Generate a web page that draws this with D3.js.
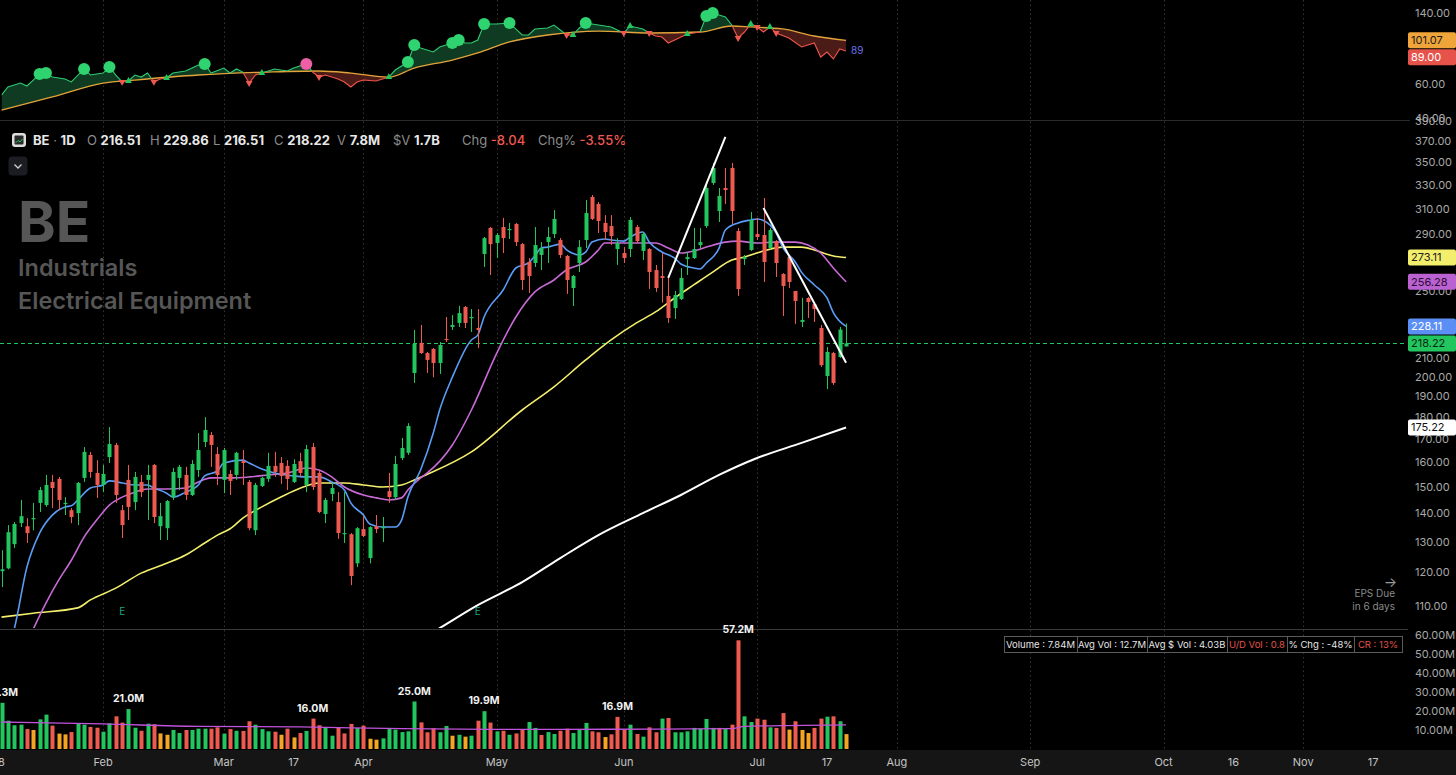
<!DOCTYPE html>
<html>
<head>
<meta charset="utf-8">
<script src="https://cdn.jsdelivr.net/npm/d3@7"></script>
<style>
  html, body { margin: 0; padding: 0; background: #000; }
  svg { display: block; font-family: Inter, "Noto Sans", sans-serif; }
</style>
</head>
<body>
<svg id="chart" width="1456" height="775"></svg>
<script>
// Daily candles, one row per trading day: [open, high, low, close]
const ohlc = [
  [120.4,127.2,115.5,121.0],[121.3,135.8,121.0,133.3],[129.2,136.9,127.9,136.2],[136.5,145.0,135.1,139.0],
  [135.4,138.3,129.6,133.0],[137.9,143.9,134.0,138.3],[143.9,150.0,140.5,148.8],[143.1,154.8,142.4,150.8],
  [152.0,154.8,142.0,149.6],[153.2,154.0,141.2,145.0],[143.5,146.1,139.4,143.9],[141.2,142.0,136.5,138.7],
  [140.1,152.0,135.8,151.6],[153.6,166.5,152.0,164.4],[163.1,164.4,153.6,156.0],[155.6,160.9,145.8,150.8],
  [150.8,158.9,148.0,155.2],[162.2,175.4,159.7,167.8],[167.4,168.3,143.9,146.9],[141.2,143.1,131.3,135.8],
  [152.8,158.9,137.6,142.4],[144.2,156.0,141.2,154.0],[152.0,154.8,146.1,148.0],[152.8,158.9,137.6,154.8],
  [158.9,159.3,136.5,138.7],[135.4,143.9,130.6,139.0],[134.7,145.0,130.6,144.6],[146.1,157.6,145.0,156.0],
  [153.6,158.9,148.8,158.1],[154.8,158.1,145.0,146.9],[146.9,160.9,146.5,159.3],[156.8,172.7,154.0,165.2],
  [168.7,180.0,166.5,174.1],[171.8,173.2,158.1,167.4],[163.5,166.5,150.8,154.8],[152.8,166.1,147.6,165.2],
  [155.2,156.8,146.9,152.4],[154.8,164.4,152.8,164.0],[160.5,165.2,150.8,159.7],[152.0,152.8,134.0,134.7],
  [134.0,151.6,132.3,150.8],[150.4,154.0,150.0,153.6],[153.2,164.0,152.0,158.5],[158.5,164.4,154.0,156.0],
  [159.7,162.2,151.2,154.4],[158.5,160.9,148.8,153.2],[152.0,161.3,151.6,159.3],[160.5,164.0,154.0,155.6],
  [150.8,167.4,148.0,165.6],[166.5,168.3,148.8,150.0],[155.6,156.8,140.1,140.5],[139.8,145.8,136.5,145.0],
  [147.3,151.6,144.6,149.6],[144.2,148.0,131.0,133.0],[132.6,148.0,129.6,133.0],[132.6,133.0,116.1,118.9],
  [122.9,135.1,121.7,134.7],[134.4,139.0,131.6,132.0],[124.6,135.4,122.9,135.1],[135.4,139.4,133.0,134.4],
  [134.7,138.7,129.9,135.1],[148.4,155.6,143.9,146.1],[146.1,162.7,145.0,159.3],[161.8,170.5,160.9,166.1],
  [164.0,177.2,163.1,175.9],[202.0,226.0,196.8,217.9],[218.5,229.0,212.3,212.8],[212.8,213.4,202.0,209.0],
  [215.1,215.6,199.8,207.3],[207.3,219.0,201.5,217.3],[220.8,233.8,219.0,220.2],[227.8,235.0,226.0,229.0],
  [230.2,240.6,227.8,236.2],[240.0,240.6,227.2,230.2],[233.2,238.7,224.8,233.8],[227.2,238.7,215.6,226.0],
  [275.6,288.1,266.4,287.3],[295.0,295.7,260.9,282.8],[283.6,291.1,272.7,289.6],[295.7,302.8,276.3,287.3],
  [293.4,298.9,286.6,294.2],[298.1,298.9,281.4,284.3],[282.8,283.6,250.9,257.5],[269.9,272.7,248.9,260.2],
  [269.2,295.7,266.4,282.1],[274.9,284.3,264.3,279.9],[284.3,295.7,269.2,288.1],[290.4,309.1,287.3,302.0],
  [285.8,287.3,272.7,274.9],[274.2,274.9,248.3,257.5],[252.2,260.9,240.6,260.2],[269.2,285.8,262.9,280.6],
  [285.8,317.3,279.9,306.7],[319.8,321.5,301.2,302.0],[314.0,315.7,291.1,300.4],[298.9,305.1,285.8,291.9],
  [296.5,305.1,282.1,288.8],[279.2,287.3,267.8,283.6],[276.3,280.6,269.2,272.7],[279.2,303.5,273.4,301.2],
  [295.7,297.3,283.6,285.0],[277.8,291.9,271.3,290.4],[279.2,279.9,251.5,262.9],[264.3,267.8,249.6,252.2],
  [260.2,276.3,242.7,258.9],[247.0,258.9,230.2,233.2],[239.3,250.2,232.6,247.6],[245.0,265.7,244.4,258.9],
  [272.0,277.0,260.9,273.4],[272.7,295.0,272.0,279.2],[282.1,295.0,279.9,284.3],[296.5,332.5,295.0,327.4],
  [331.7,349.5,330.0,345.0],[308.3,327.4,299.6,320.7],[327.4,345.0,314.0,325.7],[345.0,349.5,298.1,308.3],
  [292.6,295.0,247.0,251.5],[272.0,274.9,267.8,273.4],[278.5,307.5,277.8,301.2],[290.4,302.8,285.8,288.1],
  [289.6,319.0,256.2,269.9],[279.9,295.0,279.2,293.4],[285.0,285.8,259.6,269.2],[261.6,262.2,234.4,253.5],
  [273.4,274.9,252.2,256.2],[250.2,250.2,229.6,243.8],[230.8,245.7,227.8,232.0],[245.7,246.3,233.2,243.1],
  [241.8,243.1,230.8,238.7],[227.2,229.0,205.2,206.2],[200.4,216.2,193.7,213.4],[212.8,213.4,195.8,196.8],
  [210.6,227.8,210.1,226.26],[216.51,229.86,216.51,218.22]
];

// Volume in millions, and bar kind (u = up, d = down, l = low-volume day)
const volume = [
  24.3,14.9,12.5,12.8,10.5,10.0,15.6,18.1,12.3,8.1, 7.7,8.9,13.2,12.8,11.6,11.2,9.1,13.5,17.2,13.9,
  21.0,11.2,9.6,13.3,13.0,8.2,7.5,10.0,8.4,10.0, 10.0,10.7,10.7,10.7,11.4,8.1,10.5,9.6,9.5,14.6,
  12.8,10.5,9.3,9.1,7.5,10.7,6.1,8.4,9.5,16.0, 12.5,11.4,7.0,11.1,8.2,13.2,11.1,12.3,5.4,4.9,
  5.6,10.5,10.2,8.9,9.3,25.0,14.0,8.8,10.9,8.8, 12.1,7.0,7.5,6.5,7.0,14.9,19.9,13.9,9.3,9.6,
  7.5,8.2,10.5,14.2,11.1,7.4,8.9,7.9,9.6,10.7, 8.4,10.0,13.7,9.3,8.8,6.3,7.7,16.9,10.2,12.8,
  7.9,6.5,11.4,8.8,16.0,16.3,8.8,8.8,9.3,11.1, 10.7,15.8,11.1,11.1,10.5,12.8,57.2,17.2,14.2,16.0,
  15.4,11.4,11.1,18.9,10.2,14.6,10.0,8.4,11.1,16.0, 17.0,17.2,14.6,7.84
];
const volKind = ('uuuudluudl' + 'lduudduudd' + 'uududlluud' + 'uuuddududd' + 'uuudldldud' +
  'duudddudll' + 'uuuuuudddu' + 'ululududud' + 'udduuduudd' + 'uuuddldddu' +
  'dudduduuuu' + 'uuududduud' + 'duddldlldd' + 'udul').split('');
const volLabelled = [0, 20, 49, 65, 76, 97, 116];
const volAvg = [[0,14.2],[16,13.2],[31,11.9],[47,11.6],[63,10.7],[79,10.3],[96,10.4],[115,10.7],[117,11.9],[123,12.3],[133,12.7]];

// Moving averages: [day, value]
const ma10 = [[0,95],[2,103.5],[4,121.7],[6,133.0],[8,139.4],[10,142.4],[11,142.8],[12,145.0],[14,149.6],[16,150.8],
  [17,152.4],[19,151.6],[21,150.8],[23,150.8],[24,149.6],[26,147.6],[27,146.1],[29,148.0],[31,150.8],[32,154.4],
  [34,156.4],[35,159.7],[38,160.9],[39,159.7],[41,157.2],[43,155.6],[46,154.4],[48,154.0],[50,154.0],[52,152.0],
  [54,148.8],[55,143.9],[57,139.4],[58,136.2],[60,135.1],[62,135.1],[63,137.6],[64,146.1],[66,156.8],[68,172.7],
  [69,183.4],[71,199.8],[74,220.2],[75,223.0],[76,233.8],[79,250.9],[81,265.7],[83,269.2],[84,274.2],[85,279.9],
  [86,280.6],[88,282.8],[89,278.5],[91,274.9],[92,277.0],[93,284.3],[95,286.6],[96,285.8],[98,285.0],[99,288.1],
  [101,291.9],[102,284.3],[104,277.0],[106,272.7],[107,268.5],[109,265.7],[110,265.0],[111,269.2],[113,279.9],
  [114,293.4],[116,298.9],[118,301.2],[119,302.0],[120,300.8],[122,291.1],[123,280.6],[125,269.9],[126,262.7],
  [128,254.2],[130,245.7],[131,236.5],[133,228.11]];
const ma21 = [[3,96],[5,103.5],[7,110.8],[9,117.6],[11,123.9],[13,131.6],[15,137.6],[17,143.1],[19,146.1],[21,148.0],
  [23,149.2],[26,149.2],[29,149.6],[31,152.0],[33,153.6],[36,153.6],[39,154.0],[42,154.8],[45,155.6],[48,157.6],
  [50,156.8],[52,154.0],[54,150.0],[57,146.9],[59,145.8],[61,145.0],[63,145.8],[64,148.8],[66,153.6],[67,155.5],
  [71,167.4],[74,183.4],[78,212.8],[81,233.8],[84,249.6],[87,257.5],[89,264.5],[92,269.9],[94,278.5],[95,283.6],
  [97,283.6],[100,283.6],[103,283.6],[105,279.9],[107,276.3],[109,277.8],[111,280.6],[114,284.3],[116,285.0],
  [119,283.6],[122,284.3],[125,284.3],[127,282.1],[129,276.3],[131,265.7],[133,256.28]];
const ma50 = [[0,106.8],[5,107.9],[12,109.4],[14,111.7],[18,115.2],[22,119.8],[26,122.9],[29,125.6],[32,129.6],
  [34,132.3],[36,134.5],[38,138.3],[41,142.4],[44,146.1],[47,149.5],[50,151.6],[54,151.6],[57,150.8],[60,150.0],
  [63,150.8],[65,152.8],[67,155.0],[74,164.4],[82,183.4],[87,194.8],[92,209.0],[96,220.2],[100,230.2],[103,236.9],
  [106,245.7],[109,254.2],[112,262.9],[115,271.3],[117,273.4],[120,277.8],[123,280.6],[126,280.6],[128,278.5],
  [131,274.2],[133,273.11]];
const ma200 = [[57,93.0],[63,98.0],[69,103.8],[75,110.2],[82,117.0],[88,124.6],[94,132.3],[101,140.1],[107,146.9],
  [113,154.8],[119,161.8],[126,168.3],[133,175.22]];

// Hand-drawn trend lines: [day, price] end points
const trendLines = [[[105,258.9],[114,374.1]], [[120,310.8],[133,207.5]]];
const earningsDays = [19, 75];

// Relative-strength line and its average: [day, value]
const rs = [[0,52.6],[1,57.9],[3,60.7],[4,58.6],[5,62.9],[6,67.6],[7,68.4],[8,65.2],[10,63.7],[11,61.5],[13,71.8],
  [14,66.8],[16,68.4],[17,73.5],[18,66.8],[19,61.5],[20,62.2],[21,66.8],[22,65.2],[23,68.4],[24,61.5],[25,63.7],
  [26,64.5],[27,68.4],[29,70.1],[30,72.6],[31,75.3],[32,76.2],[33,68.4],[35,72.6],[36,68.4],[37,71.8],[38,69.2],
  [39,60.7],[40,66.8],[41,68.4],[43,71.8],[45,70.1],[46,72.6],[48,76.2],[49,69.2],[50,65.2],[51,66.8],[53,63.7],
  [54,61.5],[55,57.9],[56,61.5],[57,62.9],[59,62.2],[61,65.2],[62,70.9],[64,78.0],[65,95.6],[66,92.2],[68,87.9],
  [69,93.3],[71,97.9],[72,101.4],[73,97.9],[74,97.9],[75,101.4],[76,122.8],[78,122.8],[80,124.3],[82,107.7],
  [83,107.7],[84,115.7],[86,117.1],[87,121.3],[89,107.7],[90,107.7],[91,117.1],[92,124.3],[94,121.3],[96,118.5],
  [98,110.3],[99,119.9],[101,115.7],[102,110.3],[103,106.4],[104,105.1],[105,97.9],[107,105.1],[108,109.0],
  [110,111.6],[111,135.1],[112,140.0],[114,133.5],[115,121.3],[116,103.9],[117,111.6],[118,122.8],[119,118.5],
  [120,111.6],[121,118.5],[122,110.3],[124,103.9],[126,93.3],[128,97.9],[129,82.8],[130,87.9],[131,80.9],
  [132,91.1],[133,89.0]];
const rsMa = [[0,44.0],[8,51.4],[16,60.7],[21,62.9],[31,66.8],[42,69.2],[50,70.1],[55,68.4],[61,65.2],[65,72.6],
  [71,79.9],[75,86.9],[80,99.1],[86,107.7],[94,112.9],[102,110.3],[110,111.6],[115,119.9],[118,118.5],[123,115.7],
  [128,106.4],[133,101.07]];
const rsHighs = [6, 7, 13, 17, 32, 64, 65, 71, 72, 76, 80, 92, 111, 112];
const rsPink = [48];
const rsCrossUp = [20, 26, 41, 61, 90, 99, 108, 118, 121];
const rsCrossDown = [19, 24, 39, 50, 89, 98, 102, 116, 119, 122];

// Axis ticks
const timeTicks = [[0,'8'],[16,'Feb'],[35,'Mar'],[46,'17'],[57,'Apr'],[78,'May'],[98,'Jun'],[119,'Jul'],
  [130,'17'],[141,'Aug'],[162,'Sep'],[183,'Oct'],[194,'16'],[205,'Nov'],[216,'17']];
const priceTicks = [110,120,130,140,150,160,170,180,190,200,210,230,250,270,290,310,330,350,370,390];
const rsTicks = [40, 60, 140];
const volTicks = [10, 20, 30, 40, 50, 60];

const header = [['O','216.51'],['H','229.86'],['L','216.51'],['C','218.22'],['V','7.8M'],['$V','1.7B']];
const change = [['Chg','-8.04'],['Chg%','-3.55%']];
const infoCells = ['Volume : 7.84M','Avg Vol : 12.7M','Avg $ Vol : 4.03B','U/D Vol : 0.8','% Chg : -48%','CR : 13%'];

const UP = '#22c55e', DOWN = '#ef5a50', LOW = '#f5a524';
const AXIS = '#a8a8a8';
const PLOT_R = 1406;

const svg = d3.select('#chart');
const defs = svg.append('defs');

const x = d3.scaleLinear().domain([0, 216]).range([1.5, 1373.1]);
const yPrice = d3.scaleLog().domain([110, 390]).range([605.8, 121]);
const yRs = d3.scaleLog().domain([40, 140]).range([118, 13]);
const yVol = d3.scaleLinear().domain([0, 60]).range([749, 635]);

svg.append('rect').attr('width', 1456).attr('height', 775).attr('fill', '#000');
svg.append('rect').attr('x', 0).attr('y', 750).attr('width', 1456).attr('height', 25).attr('fill', '#151515');

const clip = (id, y, h) => defs.append('clipPath').attr('id', id)
  .append('rect').attr('x', 0).attr('y', y).attr('width', PLOT_R).attr('height', h);
clip('clipRs', 0, 120);
clip('clipPrice', 121, 507);
clip('clipVol', 630, 120);

// Month grid lines
const months = timeTicks.filter(d => /[A-Za-z]/.test(d[1]));
svg.append('g').selectAll('line').data(months).join('line')
  .attr('x1', d => Math.round(x(d[0])) + 0.5).attr('x2', d => Math.round(x(d[0])) + 0.5)
  .attr('y1', 0).attr('y2', 750)
  .attr('stroke', '#343434').attr('stroke-dasharray', '1.5,3');

// Panel separators
svg.append('line').attr('x1', 0).attr('x2', 1410).attr('y1', 120.5).attr('y2', 120.5).attr('stroke', '#2a2a2a');
svg.append('line').attr('x1', 0).attr('x2', 1408).attr('y1', 629.5).attr('y2', 629.5).attr('stroke', '#3a3a3a');

// ---------- RS panel ----------
const rsG = svg.append('g').attr('clip-path', 'url(#clipRs)');
const px = d => x(d[0]);
defs.append('clipPath').attr('id', 'aboveMa').append('path')
  .attr('d', d3.area().x(px).y0(-5).y1(d => yRs(d[1]))(rsMa));
defs.append('clipPath').attr('id', 'belowMa').append('path')
  .attr('d', d3.area().x(px).y0(125).y1(d => yRs(d[1]))(rsMa));

rsG.append('path').attr('clip-path', 'url(#aboveMa)')
  .attr('d', d3.area().x(px).y0(125).y1(d => yRs(d[1]))(rs)).attr('fill', '#0f3b22');
rsG.append('path').attr('clip-path', 'url(#belowMa)')
  .attr('d', d3.area().x(px).y0(-5).y1(d => yRs(d[1]))(rs)).attr('fill', '#4a1b17');

const rsLine = d3.line().x(px).y(d => yRs(d[1]));
rsG.append('path').attr('d', d3.line().x(px).y(d => yRs(d[1])).curve(d3.curveMonotoneX)(rsMa))
  .attr('fill', 'none').attr('stroke', '#e2a43a').attr('stroke-width', 1.3);
rsG.append('path').attr('clip-path', 'url(#aboveMa)').attr('d', rsLine(rs))
  .attr('fill', 'none').attr('stroke', '#2ecc71').attr('stroke-width', 1.1);
rsG.append('path').attr('clip-path', 'url(#belowMa)').attr('d', rsLine(rs))
  .attr('fill', 'none').attr('stroke', '#f0554a').attr('stroke-width', 1.1);

const rsAt = new Map(rs);
const tri = d3.symbol().type(d3.symbolTriangle).size(20)();
rsG.selectAll('path.up').data(rsCrossUp).join('path').attr('class', 'up').attr('d', tri)
  .attr('transform', d => `translate(${x(d)},${yRs(rsAt.get(d))})`).attr('fill', UP);
rsG.selectAll('path.dn').data(rsCrossDown).join('path').attr('class', 'dn').attr('d', tri)
  .attr('transform', d => `translate(${x(d)},${yRs(rsAt.get(d))}) rotate(180)`).attr('fill', DOWN);
rsG.selectAll('circle.hi').data(rsHighs).join('circle').attr('class', 'hi')
  .attr('cx', d => x(d)).attr('cy', d => yRs(rsAt.get(d))).attr('r', 6).attr('fill', '#2fd36f');
rsG.selectAll('circle.pk').data(rsPink).join('circle').attr('class', 'pk')
  .attr('cx', d => x(d)).attr('cy', d => yRs(rsAt.get(d))).attr('r', 6).attr('fill', '#ef5fa7');

const rsLast = rs[rs.length - 1];
svg.append('text').attr('x', x(rsLast[0]) + 5).attr('y', yRs(rsLast[1])).attr('dy', '0.35em')
  .attr('font-size', 10).attr('fill', '#6b72ea').text(Math.round(rsLast[1]));

// ---------- Price panel ----------
svg.append('text').attr('x', 18).attr('y', 242).attr('font-size', 57).attr('font-weight', 700)
  .attr('fill', '#565656').text('BE');
svg.append('text').attr('x', 18).attr('y', 276).attr('font-size', 23.5).attr('font-weight', 600)
  .attr('fill', '#565656').text('Industrials');
svg.append('text').attr('x', 18).attr('y', 309).attr('font-size', 23.5).attr('font-weight', 600)
  .attr('fill', '#565656').text('Electrical Equipment');

const pG = svg.append('g').attr('clip-path', 'url(#clipPrice)');
const lastClose = ohlc[ohlc.length - 1][3];
const closeY = Math.round(yPrice(lastClose)) + 0.5;
pG.append('line').attr('x1', 0).attr('x2', PLOT_R).attr('y1', closeY).attr('y2', closeY)
  .attr('stroke', UP).attr('stroke-dasharray', '4,3');

const maLine = d3.line().x(px).y(d => yPrice(d[1])).curve(d3.curveMonotoneX);
[[ma200, '#ffffff', 2], [ma50, '#f3ef6c', 1.6], [ma21, '#c76ad6', 1.6], [ma10, '#5b9cf6', 1.6]].forEach(([data, c, w]) => {
  pG.append('path').attr('d', maLine(data)).attr('fill', 'none').attr('stroke', c).attr('stroke-width', w);
});

const cG = pG.append('g');
const col = d => (d[3] >= d[0] ? UP : DOWN);
cG.selectAll('line').data(ohlc).join('line')
  .attr('x1', (d, i) => Math.round(x(i)) + 0.5).attr('x2', (d, i) => Math.round(x(i)) + 0.5)
  .attr('y1', d => yPrice(d[1])).attr('y2', d => yPrice(d[2]))
  .attr('stroke', col).attr('stroke-width', 1);
cG.selectAll('rect').data(ohlc).join('rect')
  .attr('x', (d, i) => Math.round(x(i)) - 1.5).attr('width', 4)
  .attr('y', d => yPrice(Math.max(d[0], d[3])))
  .attr('height', d => Math.max(1.2, Math.abs(yPrice(d[0]) - yPrice(d[3]))))
  .attr('fill', col);

pG.selectAll('line.tl').data(trendLines).join('line').attr('class', 'tl')
  .attr('x1', d => x(d[0][0])).attr('y1', d => yPrice(d[0][1]))
  .attr('x2', d => x(d[1][0])).attr('y2', d => yPrice(d[1][1]))
  .attr('stroke', '#ffffff').attr('stroke-width', 2);

svg.selectAll('text.earn').data(earningsDays).join('text').attr('class', 'earn')
  .attr('x', d => x(d)).attr('y', 615).attr('text-anchor', 'middle')
  .attr('font-size', 10).attr('fill', '#1fa57c').text('E');

// EPS due note
svg.append('text').attr('x', 1397).attr('y', 587).attr('text-anchor', 'end')
  .attr('font-size', 14).attr('fill', '#9a9a9a').text('→');
svg.append('text').attr('x', 1395).attr('y', 597).attr('text-anchor', 'end')
  .attr('font-size', 10).attr('fill', '#8a8a8a').text('EPS Due');
svg.append('text').attr('x', 1395).attr('y', 610).attr('text-anchor', 'end')
  .attr('font-size', 10).attr('fill', '#8a8a8a').text('in 6 days');

// ---------- Volume panel ----------
const vG = svg.append('g').attr('clip-path', 'url(#clipVol)');
const volColor = { u: UP, d: DOWN, l: LOW };
vG.selectAll('rect').data(volume).join('rect')
  .attr('x', (d, i) => Math.round(x(i)) - 1.5).attr('width', 4)
  .attr('y', d => yVol(d)).attr('height', d => yVol(0) - yVol(d))
  .attr('fill', (d, i) => volColor[volKind[i]]);
vG.append('path').attr('d', d3.line().x(px).y(d => yVol(d[1])).curve(d3.curveMonotoneX)(volAvg))
  .attr('fill', 'none').attr('stroke', '#c054dc').attr('stroke-width', 1.3);
svg.selectAll('text.vl').data(volLabelled).join('text').attr('class', 'vl')
  .attr('x', d => x(d)).attr('y', d => yVol(volume[d]) - 7).attr('text-anchor', 'middle')
  .attr('font-size', 10.5).attr('font-weight', 700).attr('fill', '#f2f2f2')
  .text(d => volume[d].toFixed(1) + 'M');

// Volume info strip
const cellW = [73, 70, 80, 60, 67, 48];
let cx = 1004;
const info = svg.append('g');
infoCells.forEach((t, k) => {
  info.append('rect').attr('x', cx + 0.5).attr('y', 636.5).attr('width', cellW[k]).attr('height', 16)
    .attr('fill', '#000').attr('stroke', '#5a5a5a');
  info.append('text').attr('x', cx + cellW[k] / 2).attr('y', 648).attr('text-anchor', 'middle')
    .attr('font-size', 9.5).attr('fill', (k === 3 || k === 5) ? '#e0534b' : '#e6e6e6').text(t);
  cx += cellW[k];
});

// ---------- Axes and last-value boxes ----------
const last = a => a[a.length - 1][1];
const place = (items, scale) => {
  const placed = items.map(d => ({ ...d, y: scale(d.v) })).sort((a, b) => a.y - b.y);
  for (let k = 1; k < placed.length; k += 1) {
    if (placed[k].y - placed[k - 1].y < 17) placed[k].y = placed[k - 1].y + 17;
  }
  return placed;
};
const priceBoxes = place([
  { v: last(ma50), bg: '#f3ef6c', fg: '#222' },
  { v: last(ma21), bg: '#bb62d3', fg: '#2a0a30' },
  { v: last(ma10), bg: '#5b8ff6', fg: '#fff' },
  { v: lastClose, bg: UP, fg: '#0b2a14' },
  { v: last(ma200), bg: '#ffffff', fg: '#111' },
], yPrice);
const rsBoxes = place([
  { v: last(rsMa), bg: '#f0a53a', fg: '#1a1a1a' },
  { v: last(rs), bg: '#e5534b', fg: '#fff' },
], yRs);

const ax = svg.append('g');
const axisText = (y, label) => ax.append('text').attr('x', 1415).attr('y', y).attr('dy', '0.35em')
  .attr('font-size', 11).attr('fill', AXIS).text(label);
// ticks fully hidden behind a value box are left out
const hidden = y => priceBoxes.some(b => Math.abs(b.y - y) < 8);
priceTicks.filter(t => !hidden(yPrice(t))).forEach(t => axisText(yPrice(t), t.toFixed(2)));
rsTicks.forEach(t => axisText(yRs(t), t.toFixed(2)));
volTicks.forEach(t => axisText(yVol(t), t.toFixed(2) + 'M'));

svg.append('g').selectAll('text').data(timeTicks).join('text')
  .attr('x', d => x(d[0])).attr('y', 766).attr('text-anchor', 'middle')
  .attr('font-size', 11).attr('fill', '#c4c4c4').text(d => d[1]);

[...priceBoxes, ...rsBoxes].forEach(d => {
  ax.append('rect').attr('x', 1408).attr('y', d.y - 8).attr('width', 48).attr('height', 16)
    .attr('rx', 2).attr('fill', d.bg);
  ax.append('text').attr('x', 1411).attr('y', d.y).attr('dy', '0.35em').attr('font-size', 11)
    .attr('fill', d.fg).text(d.v.toFixed(2));
});

// ---------- Header ----------
const hd = svg.append('g').attr('font-size', 13);
hd.append('rect').attr('x', 12).attr('y', 133).attr('width', 14).attr('height', 14).attr('rx', 3).attr('fill', '#dcdcdc');
hd.append('rect').attr('x', 14.5).attr('y', 135.5).attr('width', 9).attr('height', 9).attr('rx', 1).attr('fill', '#2a2a2a');
hd.append('path').attr('d', 'M15.5 143 L18 140.5 L20 142 L22.5 139').attr('stroke', UP).attr('fill', 'none');
const t0 = hd.append('text').attr('x', 33).attr('y', 145).attr('fill', '#e8e8e8').attr('font-weight', 700);
t0.append('tspan').text('BE');
t0.append('tspan').attr('fill', '#8c8c8c').attr('font-weight', 400).text(' · ');
t0.append('tspan').text('1D');
const hx = [87, 150, 213, 274, 337, 393];
header.forEach(([k, v], n) => {
  const t = hd.append('text').attr('x', hx[n]).attr('y', 145);
  t.append('tspan').attr('fill', '#8c8c8c').text(k + ' ');
  t.append('tspan').attr('fill', '#e8e8e8').attr('font-weight', 700).text(v);
});
const cxs = [462, 538];
change.forEach(([k, v], n) => {
  const t = hd.append('text').attr('x', cxs[n]).attr('y', 145);
  t.append('tspan').attr('fill', '#8c8c8c').text(k + '  ');
  t.append('tspan').attr('fill', '#ef5a50').attr('font-weight', 500).text(v);
});
svg.append('rect').attr('x', 8.5).attr('y', 156.5).attr('width', 19).attr('height', 19).attr('rx', 4).attr('fill', '#1c1d22');
svg.append('path').attr('d', 'M14.5 164.5 L18 168 L21.5 164.5').attr('stroke', '#cfcfcf').attr('stroke-width', 1.3).attr('fill', 'none');
</script>
</body>
</html>
